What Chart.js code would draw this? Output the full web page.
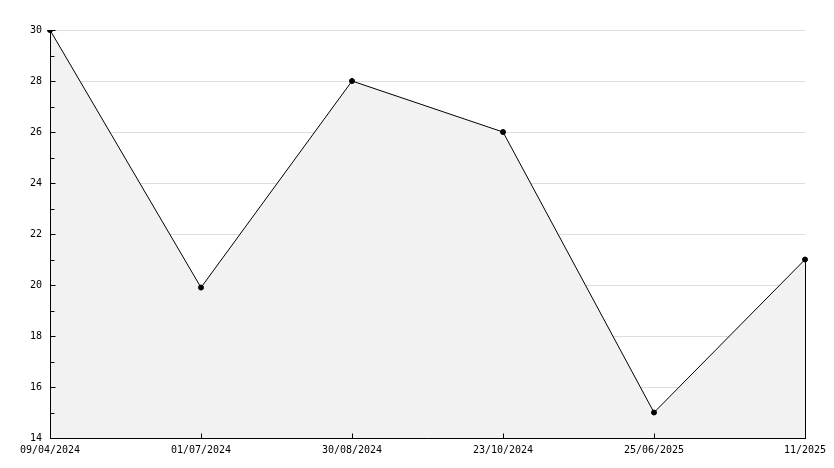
<!DOCTYPE html>
<html>
<head>
<meta charset="utf-8">
<script src="https://cdn.jsdelivr.net/npm/chart.js@4/dist/chart.umd.min.js"></script>
<style>
  html, body { margin: 0; padding: 0; background: #fff; }
  #wrap { width: 834px; height: 468px; }
</style>
</head>
<body>
<div id="wrap"><canvas id="c" width="834" height="468"></canvas></div>
<script>
const categories = ["09/04/2024", "01/07/2024", "30/08/2024", "23/10/2024", "25/06/2025", "11/2025"];
const values = [30, 19.9, 28, 26, 15, 21];
const yMin = 14, yMax = 30, yStep = 2, yMinorStep = 1;

const FONT = { family: "'DejaVu Sans Mono', monospace", size: 10 };

const axesPlugin = {
  id: 'axesPlugin',
  afterDatasetsDraw(chart) {
    const ctx = chart.ctx;
    const xs = chart.scales.x, ys = chart.scales.y;
    const area = chart.chartArea;
    ctx.save();
    ctx.strokeStyle = '#000';
    ctx.lineWidth = 1;
    // right vertical edge of the filled area (from last point down to baseline)
    const meta = chart.getDatasetMeta(0);
    const last = meta.data[meta.data.length - 1];
    const lx = Math.round(last.x) + 0.5;
    ctx.beginPath();
    ctx.moveTo(lx, last.y);
    ctx.lineTo(lx, ys.getPixelForValue(yMin));
    ctx.stroke();
    // axis lines
    const ax = Math.round(area.left) + 0.5;
    const ay = Math.round(ys.getPixelForValue(yMin)) + 0.5;
    ctx.beginPath();
    ctx.moveTo(ax, Math.round(ys.getPixelForValue(yMax)));
    ctx.lineTo(ax, ay);
    ctx.lineTo(Math.round(area.right) + 1, ay);
    ctx.stroke();
    // y ticks (inward), major and minor
    for (let v = yMin; v <= yMax; v += yMinorStep) {
      const py = Math.round(ys.getPixelForValue(v)) + 0.5;
      const major = ((v - yMin) % yStep) === 0;
      const len = major ? 5 : 4;
      ctx.beginPath();
      ctx.moveTo(ax, py);
      ctx.lineTo(ax + len, py);
      ctx.stroke();
    }
    // x ticks (inward)
    for (let i = 0; i < categories.length; i++) {
      const px = Math.round(xs.getPixelForValue(i)) + 0.5;
      ctx.beginPath();
      ctx.moveTo(px, ay);
      ctx.lineTo(px, ay - 5);
      ctx.stroke();
    }
    ctx.restore();
  }
};

new Chart(document.getElementById('c'), {
  type: 'line',
  data: {
    labels: categories,
    datasets: [{
      data: values,
      borderColor: '#000',
      borderWidth: 1,
      backgroundColor: '#f2f2f2',
      fill: 'origin',
      tension: 0,
      pointRadius: 2.5,
      pointStyle: 'circle',
      pointBackgroundColor: '#000',
      pointBorderColor: '#000',
      pointBorderWidth: 1
    }]
  },
  options: {
    responsive: false,
    animation: false,
    devicePixelRatio: 1,
    layout: { padding: { top: 30, right: 29, left: 0, bottom: 0 } },
    plugins: { legend: { display: false }, tooltip: { enabled: false } },
    scales: {
      x: {
        type: 'category',
        offset: false,
        grid: { display: false, drawTicks: false },
        border: { display: false },
        ticks: { color: '#000', font: FONT, padding: 6, maxRotation: 0, autoSkip: false },
        afterFit(s) { s.height = 30; }
      },
      y: {
        min: yMin, max: yMax,
        grid: { color: '#dddddd', lineWidth: 1, drawTicks: false },
        border: { display: false },
        ticks: { color: '#000', font: FONT, stepSize: yStep, padding: 8 },
        afterFit(s) { s.width = 50; }
      }
    }
  },
  plugins: [axesPlugin]
});
</script>
</body>
</html>
